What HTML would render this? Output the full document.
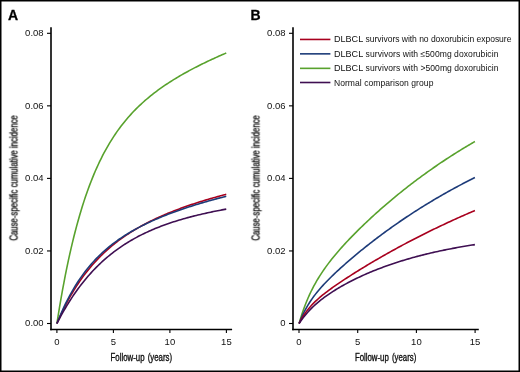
<!DOCTYPE html>
<html><head><meta charset="utf-8"><style>
html,body{margin:0;padding:0;background:#fff;}
body{width:520px;height:372px;overflow:hidden;}
svg{display:block;font-family:"Liberation Sans",sans-serif;}
text{will-change:transform;}
</style></head><body>
<svg width="520" height="372" viewBox="0 0 520 372">
<rect x="0.75" y="0.75" width="518.5" height="370.5" fill="#fff" stroke="#000" stroke-width="1.5"/>
<text x="8.0" y="19.8" font-size="14" font-weight="bold" fill="#000" stroke="#000" stroke-width="0.3">A</text>
<text x="250.6" y="19.8" font-size="14" font-weight="bold" fill="#000" stroke="#000" stroke-width="0.3">B</text>
<line x1="51.0" y1="27.3" x2="51.0" y2="330.3" stroke="#000" stroke-width="1.6"/>
<line x1="50.2" y1="329.5" x2="232.1" y2="329.5" stroke="#000" stroke-width="1.6"/>
<line x1="47.0" y1="323.50" x2="51.0" y2="323.50" stroke="#000" stroke-width="1.1"/>
<text transform="translate(43.6,326.20) scale(1,1)" text-anchor="end" font-size="9.5" fill="#111" stroke="#111" stroke-width="0">0.00</text>
<line x1="47.0" y1="250.95" x2="51.0" y2="250.95" stroke="#000" stroke-width="1.1"/>
<text transform="translate(43.6,253.65) scale(1,1)" text-anchor="end" font-size="9.5" fill="#111" stroke="#111" stroke-width="0">0.02</text>
<line x1="47.0" y1="178.40" x2="51.0" y2="178.40" stroke="#000" stroke-width="1.1"/>
<text transform="translate(43.6,181.10) scale(1,1)" text-anchor="end" font-size="9.5" fill="#111" stroke="#111" stroke-width="0">0.04</text>
<line x1="47.0" y1="105.85" x2="51.0" y2="105.85" stroke="#000" stroke-width="1.1"/>
<text transform="translate(43.6,108.55) scale(1,1)" text-anchor="end" font-size="9.5" fill="#111" stroke="#111" stroke-width="0">0.06</text>
<line x1="47.0" y1="33.30" x2="51.0" y2="33.30" stroke="#000" stroke-width="1.1"/>
<text transform="translate(43.6,36.00) scale(1,1)" text-anchor="end" font-size="9.5" fill="#111" stroke="#111" stroke-width="0">0.08</text>
<line x1="56.90" y1="329.5" x2="56.90" y2="333" stroke="#000" stroke-width="1.1"/>
<text transform="translate(56.90,344.7) scale(1,1)" text-anchor="middle" font-size="9.5" fill="#111" stroke="#111" stroke-width="0">0</text>
<line x1="113.40" y1="329.5" x2="113.40" y2="333" stroke="#000" stroke-width="1.1"/>
<text transform="translate(113.40,344.7) scale(1,1)" text-anchor="middle" font-size="9.5" fill="#111" stroke="#111" stroke-width="0">5</text>
<line x1="169.90" y1="329.5" x2="169.90" y2="333" stroke="#000" stroke-width="1.1"/>
<text transform="translate(169.90,344.7) scale(1,1)" text-anchor="middle" font-size="9.5" fill="#111" stroke="#111" stroke-width="0">10</text>
<line x1="226.40" y1="329.5" x2="226.40" y2="333" stroke="#000" stroke-width="1.1"/>
<text transform="translate(226.40,344.7) scale(1,1)" text-anchor="middle" font-size="9.5" fill="#111" stroke="#111" stroke-width="0">15</text>
<line x1="293.0" y1="27.3" x2="293.0" y2="330.3" stroke="#000" stroke-width="1.6"/>
<line x1="292.2" y1="329.5" x2="478.8" y2="329.5" stroke="#000" stroke-width="1.6"/>
<line x1="289.0" y1="323.50" x2="293.0" y2="323.50" stroke="#000" stroke-width="1.1"/>
<text transform="translate(285.6,326.20) scale(1,1)" text-anchor="end" font-size="9.5" fill="#111" stroke="#111" stroke-width="0">0</text>
<line x1="289.0" y1="250.95" x2="293.0" y2="250.95" stroke="#000" stroke-width="1.1"/>
<text transform="translate(285.6,253.65) scale(1,1)" text-anchor="end" font-size="9.5" fill="#111" stroke="#111" stroke-width="0">0.02</text>
<line x1="289.0" y1="178.40" x2="293.0" y2="178.40" stroke="#000" stroke-width="1.1"/>
<text transform="translate(285.6,181.10) scale(1,1)" text-anchor="end" font-size="9.5" fill="#111" stroke="#111" stroke-width="0">0.04</text>
<line x1="289.0" y1="105.85" x2="293.0" y2="105.85" stroke="#000" stroke-width="1.1"/>
<text transform="translate(285.6,108.55) scale(1,1)" text-anchor="end" font-size="9.5" fill="#111" stroke="#111" stroke-width="0">0.06</text>
<line x1="289.0" y1="33.30" x2="293.0" y2="33.30" stroke="#000" stroke-width="1.1"/>
<text transform="translate(285.6,36.00) scale(1,1)" text-anchor="end" font-size="9.5" fill="#111" stroke="#111" stroke-width="0">0.08</text>
<line x1="299.00" y1="329.5" x2="299.00" y2="333" stroke="#000" stroke-width="1.1"/>
<text transform="translate(299.00,344.7) scale(1,1)" text-anchor="middle" font-size="9.5" fill="#111" stroke="#111" stroke-width="0">0</text>
<line x1="357.70" y1="329.5" x2="357.70" y2="333" stroke="#000" stroke-width="1.1"/>
<text transform="translate(357.70,344.7) scale(1,1)" text-anchor="middle" font-size="9.5" fill="#111" stroke="#111" stroke-width="0">5</text>
<line x1="416.40" y1="329.5" x2="416.40" y2="333" stroke="#000" stroke-width="1.1"/>
<text transform="translate(416.40,344.7) scale(1,1)" text-anchor="middle" font-size="9.5" fill="#111" stroke="#111" stroke-width="0">10</text>
<line x1="475.10" y1="329.5" x2="475.10" y2="333" stroke="#000" stroke-width="1.1"/>
<text transform="translate(475.10,344.7) scale(1,1)" text-anchor="middle" font-size="9.5" fill="#111" stroke="#111" stroke-width="0">15</text>
<text transform="translate(141.3,361) scale(0.783,1)" word-spacing="1.3" text-anchor="middle" font-size="10" fill="#111" stroke="#111" stroke-width="0.35">Follow-up (years)</text>
<text transform="translate(385.6,361) scale(0.783,1)" word-spacing="1.3" text-anchor="middle" font-size="10" fill="#111" stroke="#111" stroke-width="0.35">Follow-up (years)</text>
<text transform="translate(17.5,178) rotate(-90) scale(0.78,1)" text-anchor="middle" font-size="10" fill="#111" stroke="#111" stroke-width="0.35">Cause-specific cumulative incidence</text>
<text transform="translate(259.5,178) rotate(-90) scale(0.78,1)" text-anchor="middle" font-size="10" fill="#111" stroke="#111" stroke-width="0.35">Cause-specific cumulative incidence</text>
<path d="M56.90,323.50 L58.32,314.52 L59.75,305.90 L61.17,297.62 L62.59,289.66 L64.02,282.03 L65.44,274.69 L66.86,267.64 L68.28,260.87 L69.71,254.35 L71.13,248.09 L72.55,242.07 L73.98,236.28 L75.40,230.70 L76.82,225.34 L78.25,220.18 L79.67,215.21 L81.09,210.42 L82.52,205.81 L83.94,201.37 L85.36,197.08 L86.79,192.95 L88.21,188.97 L89.63,185.13 L91.05,181.42 L92.48,177.85 L93.90,174.39 L95.32,171.05 L96.75,167.83 L98.17,164.71 L99.59,161.70 L101.02,158.79 L102.44,155.97 L103.86,153.24 L105.29,150.60 L106.71,148.04 L108.13,145.56 L109.56,143.15 L110.98,140.82 L112.40,138.56 L113.82,136.37 L115.25,134.24 L116.67,132.17 L118.09,130.16 L119.52,128.21 L120.94,126.31 L122.36,124.47 L123.79,122.67 L125.21,120.92 L126.63,119.22 L128.06,117.56 L129.48,115.94 L130.90,114.36 L132.32,112.82 L133.75,111.32 L135.17,109.85 L136.59,108.42 L138.02,107.02 L139.44,105.65 L140.86,104.31 L142.29,103.00 L143.71,101.72 L145.13,100.47 L146.56,99.24 L147.98,98.04 L149.40,96.86 L150.83,95.70 L152.25,94.57 L153.67,93.45 L155.09,92.36 L156.52,91.28 L157.94,90.23 L159.36,89.19 L160.79,88.17 L162.21,87.17 L163.63,86.18 L165.06,85.21 L166.48,84.26 L167.90,83.32 L169.33,82.39 L170.75,81.48 L172.17,80.58 L173.59,79.69 L175.02,78.82 L176.44,77.95 L177.86,77.10 L179.29,76.26 L180.71,75.43 L182.13,74.61 L183.56,73.80 L184.98,73.00 L186.40,72.21 L187.83,71.43 L189.25,70.66 L190.67,69.90 L192.10,69.14 L193.52,68.39 L194.94,67.65 L196.36,66.92 L197.79,66.20 L199.21,65.48 L200.63,64.77 L202.06,64.07 L203.48,63.37 L204.90,62.68 L206.33,61.99 L207.75,61.32 L209.17,60.64 L210.60,59.98 L212.02,59.32 L213.44,58.66 L214.87,58.01 L216.29,57.37 L217.71,56.73 L219.13,56.10 L220.56,55.47 L221.98,54.84 L223.40,54.23 L224.83,53.61 L226.25,53.00" fill="none" stroke="#58a22d" stroke-width="1.6" stroke-linecap="butt"/>
<path d="M56.90,323.50 L58.32,320.24 L59.75,317.07 L61.17,314.00 L62.59,311.02 L64.02,308.13 L65.44,305.33 L66.86,302.61 L68.28,299.96 L69.71,297.40 L71.13,294.91 L72.55,292.49 L73.98,290.13 L75.40,287.85 L76.82,285.63 L78.25,283.47 L79.67,281.37 L81.09,279.32 L82.52,277.33 L83.94,275.40 L85.36,273.52 L86.79,271.68 L88.21,269.90 L89.63,268.16 L91.05,266.46 L92.48,264.81 L93.90,263.20 L95.32,261.63 L96.75,260.10 L98.17,258.60 L99.59,257.14 L101.02,255.72 L102.44,254.33 L103.86,252.98 L105.29,251.65 L106.71,250.36 L108.13,249.09 L109.56,247.85 L110.98,246.64 L112.40,245.46 L113.82,244.31 L115.25,243.17 L116.67,242.07 L118.09,240.98 L119.52,239.92 L120.94,238.88 L122.36,237.86 L123.79,236.86 L125.21,235.88 L126.63,234.93 L128.06,233.99 L129.48,233.06 L130.90,232.16 L132.32,231.27 L133.75,230.40 L135.17,229.54 L136.59,228.70 L138.02,227.88 L139.44,227.07 L140.86,226.27 L142.29,225.49 L143.71,224.72 L145.13,223.96 L146.56,223.22 L147.98,222.48 L149.40,221.76 L150.83,221.06 L152.25,220.36 L153.67,219.67 L155.09,219.00 L156.52,218.33 L157.94,217.68 L159.36,217.03 L160.79,216.39 L162.21,215.77 L163.63,215.15 L165.06,214.54 L166.48,213.94 L167.90,213.35 L169.33,212.76 L170.75,212.19 L172.17,211.62 L173.59,211.06 L175.02,210.50 L176.44,209.96 L177.86,209.42 L179.29,208.88 L180.71,208.36 L182.13,207.84 L183.56,207.33 L184.98,206.82 L186.40,206.32 L187.83,205.82 L189.25,205.33 L190.67,204.85 L192.10,204.37 L193.52,203.90 L194.94,203.44 L196.36,202.97 L197.79,202.52 L199.21,202.07 L200.63,201.62 L202.06,201.18 L203.48,200.74 L204.90,200.31 L206.33,199.88 L207.75,199.46 L209.17,199.04 L210.60,198.63 L212.02,198.22 L213.44,197.81 L214.87,197.41 L216.29,197.01 L217.71,196.62 L219.13,196.23 L220.56,195.84 L221.98,195.46 L223.40,195.08 L224.83,194.71 L226.25,194.34" fill="none" stroke="#a8001e" stroke-width="1.6" stroke-linecap="butt"/>
<path d="M56.90,323.50 L58.32,319.94 L59.75,316.51 L61.17,313.20 L62.59,310.01 L64.02,306.92 L65.44,303.95 L66.86,301.08 L68.28,298.30 L69.71,295.62 L71.13,293.03 L72.55,290.52 L73.98,288.10 L75.40,285.76 L76.82,283.49 L78.25,281.30 L79.67,279.17 L81.09,277.11 L82.52,275.12 L83.94,273.19 L85.36,271.31 L86.79,269.50 L88.21,267.73 L89.63,266.02 L91.05,264.36 L92.48,262.74 L93.90,261.18 L95.32,259.65 L96.75,258.17 L98.17,256.73 L99.59,255.33 L101.02,253.96 L102.44,252.63 L103.86,251.34 L105.29,250.08 L106.71,248.85 L108.13,247.65 L109.56,246.48 L110.98,245.34 L112.40,244.22 L113.82,243.14 L115.25,242.07 L116.67,241.04 L118.09,240.02 L119.52,239.03 L120.94,238.06 L122.36,237.11 L123.79,236.18 L125.21,235.27 L126.63,234.38 L128.06,233.50 L129.48,232.65 L130.90,231.81 L132.32,230.98 L133.75,230.18 L135.17,229.38 L136.59,228.61 L138.02,227.84 L139.44,227.09 L140.86,226.35 L142.29,225.63 L143.71,224.92 L145.13,224.22 L146.56,223.53 L147.98,222.85 L149.40,222.18 L150.83,221.53 L152.25,220.88 L153.67,220.24 L155.09,219.62 L156.52,219.00 L157.94,218.39 L159.36,217.79 L160.79,217.20 L162.21,216.62 L163.63,216.04 L165.06,215.47 L166.48,214.91 L167.90,214.36 L169.33,213.82 L170.75,213.28 L172.17,212.74 L173.59,212.22 L175.02,211.70 L176.44,211.19 L177.86,210.68 L179.29,210.18 L180.71,209.69 L182.13,209.20 L183.56,208.72 L184.98,208.24 L186.40,207.77 L187.83,207.30 L189.25,206.84 L190.67,206.38 L192.10,205.93 L193.52,205.48 L194.94,205.04 L196.36,204.60 L197.79,204.16 L199.21,203.73 L200.63,203.31 L202.06,202.89 L203.48,202.47 L204.90,202.06 L206.33,201.65 L207.75,201.24 L209.17,200.84 L210.60,200.45 L212.02,200.05 L213.44,199.66 L214.87,199.28 L216.29,198.89 L217.71,198.51 L219.13,198.14 L220.56,197.77 L221.98,197.40 L223.40,197.03 L224.83,196.67 L226.25,196.31" fill="none" stroke="#1d3b79" stroke-width="1.6" stroke-linecap="butt"/>
<path d="M56.90,323.50 L58.32,320.76 L59.75,318.08 L61.17,315.46 L62.59,312.91 L64.02,310.42 L65.44,307.99 L66.86,305.62 L68.28,303.30 L69.71,301.04 L71.13,298.83 L72.55,296.68 L73.98,294.57 L75.40,292.52 L76.82,290.51 L78.25,288.56 L79.67,286.64 L81.09,284.78 L82.52,282.95 L83.94,281.17 L85.36,279.43 L86.79,277.73 L88.21,276.08 L89.63,274.46 L91.05,272.87 L92.48,271.33 L93.90,269.82 L95.32,268.34 L96.75,266.90 L98.17,265.49 L99.59,264.11 L101.02,262.77 L102.44,261.45 L103.86,260.17 L105.29,258.91 L106.71,257.68 L108.13,256.49 L109.56,255.31 L110.98,254.17 L112.40,253.04 L113.82,251.95 L115.25,250.88 L116.67,249.83 L118.09,248.80 L119.52,247.80 L120.94,246.82 L122.36,245.86 L123.79,244.92 L125.21,244.00 L126.63,243.11 L128.06,242.23 L129.48,241.37 L130.90,240.52 L132.32,239.70 L133.75,238.89 L135.17,238.10 L136.59,237.33 L138.02,236.57 L139.44,235.83 L140.86,235.11 L142.29,234.39 L143.71,233.70 L145.13,233.02 L146.56,232.35 L147.98,231.69 L149.40,231.05 L150.83,230.42 L152.25,229.80 L153.67,229.20 L155.09,228.61 L156.52,228.03 L157.94,227.46 L159.36,226.90 L160.79,226.35 L162.21,225.81 L163.63,225.28 L165.06,224.77 L166.48,224.26 L167.90,223.76 L169.33,223.27 L170.75,222.79 L172.17,222.32 L173.59,221.85 L175.02,221.40 L176.44,220.95 L177.86,220.51 L179.29,220.08 L180.71,219.66 L182.13,219.24 L183.56,218.83 L184.98,218.43 L186.40,218.03 L187.83,217.64 L189.25,217.26 L190.67,216.88 L192.10,216.51 L193.52,216.15 L194.94,215.79 L196.36,215.44 L197.79,215.09 L199.21,214.75 L200.63,214.41 L202.06,214.08 L203.48,213.75 L204.90,213.43 L206.33,213.11 L207.75,212.80 L209.17,212.49 L210.60,212.18 L212.02,211.88 L213.44,211.59 L214.87,211.30 L216.29,211.01 L217.71,210.73 L219.13,210.44 L220.56,210.17 L221.98,209.90 L223.40,209.63 L224.83,209.36 L226.25,209.10" fill="none" stroke="#3f0f52" stroke-width="1.6" stroke-linecap="butt"/>
<path d="M299.10,323.50 L300.58,318.50 L302.05,313.87 L303.53,309.56 L305.01,305.54 L306.49,301.78 L307.96,298.25 L309.44,294.92 L310.92,291.78 L312.40,288.80 L313.87,285.97 L315.35,283.28 L316.83,280.70 L318.31,278.23 L319.78,275.85 L321.26,273.56 L322.74,271.35 L324.21,269.21 L325.69,267.13 L327.17,265.11 L328.65,263.14 L330.12,261.22 L331.60,259.34 L333.08,257.50 L334.56,255.70 L336.03,253.93 L337.51,252.20 L338.99,250.49 L340.46,248.80 L341.94,247.15 L343.42,245.51 L344.90,243.90 L346.37,242.30 L347.85,240.73 L349.33,239.17 L350.81,237.63 L352.28,236.10 L353.76,234.59 L355.24,233.10 L356.72,231.62 L358.19,230.15 L359.67,228.69 L361.15,227.25 L362.62,225.82 L364.10,224.40 L365.58,222.99 L367.06,221.59 L368.53,220.21 L370.01,218.83 L371.49,217.46 L372.97,216.11 L374.44,214.76 L375.92,213.43 L377.40,212.10 L378.87,210.78 L380.35,209.47 L381.83,208.17 L383.31,206.88 L384.78,205.60 L386.26,204.33 L387.74,203.06 L389.22,201.81 L390.69,200.56 L392.17,199.32 L393.65,198.09 L395.13,196.87 L396.60,195.65 L398.08,194.45 L399.56,193.25 L401.03,192.06 L402.51,190.88 L403.99,189.70 L405.47,188.54 L406.94,187.38 L408.42,186.22 L409.90,185.08 L411.38,183.94 L412.85,182.81 L414.33,181.69 L415.81,180.58 L417.28,179.47 L418.76,178.37 L420.24,177.28 L421.72,176.19 L423.19,175.11 L424.67,174.04 L426.15,172.98 L427.63,171.92 L429.10,170.87 L430.58,169.83 L432.06,168.79 L433.54,167.76 L435.01,166.73 L436.49,165.72 L437.97,164.71 L439.44,163.70 L440.92,162.71 L442.40,161.72 L443.88,160.73 L445.35,159.75 L446.83,158.78 L448.31,157.82 L449.79,156.86 L451.26,155.91 L452.74,154.96 L454.22,154.02 L455.69,153.09 L457.17,152.16 L458.65,151.24 L460.13,150.32 L461.60,149.41 L463.08,148.51 L464.56,147.61 L466.04,146.71 L467.51,145.83 L468.99,144.95 L470.47,144.07 L471.95,143.20 L473.42,142.34 L474.90,141.48" fill="none" stroke="#58a22d" stroke-width="1.6" stroke-linecap="butt"/>
<path d="M299.10,323.50 L300.58,319.78 L302.05,316.37 L303.53,313.23 L305.01,310.33 L306.49,307.63 L307.96,305.10 L309.44,302.72 L310.92,300.48 L312.40,298.35 L313.87,296.32 L315.35,294.38 L316.83,292.52 L318.31,290.72 L319.78,288.98 L321.26,287.30 L322.74,285.66 L324.21,284.06 L325.69,282.49 L327.17,280.96 L328.65,279.46 L330.12,277.98 L331.60,276.53 L333.08,275.09 L334.56,273.68 L336.03,272.29 L337.51,270.91 L338.99,269.55 L340.46,268.20 L341.94,266.86 L343.42,265.54 L344.90,264.23 L346.37,262.93 L347.85,261.64 L349.33,260.37 L350.81,259.10 L352.28,257.84 L353.76,256.59 L355.24,255.36 L356.72,254.13 L358.19,252.90 L359.67,251.69 L361.15,250.49 L362.62,249.29 L364.10,248.10 L365.58,246.92 L367.06,245.75 L368.53,244.59 L370.01,243.43 L371.49,242.28 L372.97,241.14 L374.44,240.00 L375.92,238.87 L377.40,237.75 L378.87,236.64 L380.35,235.54 L381.83,234.44 L383.31,233.34 L384.78,232.26 L386.26,231.18 L387.74,230.11 L389.22,229.05 L390.69,227.99 L392.17,226.94 L393.65,225.89 L395.13,224.86 L396.60,223.82 L398.08,222.80 L399.56,221.78 L401.03,220.77 L402.51,219.76 L403.99,218.77 L405.47,217.77 L406.94,216.79 L408.42,215.81 L409.90,214.83 L411.38,213.86 L412.85,212.90 L414.33,211.95 L415.81,211.00 L417.28,210.05 L418.76,209.12 L420.24,208.18 L421.72,207.26 L423.19,206.34 L424.67,205.42 L426.15,204.52 L427.63,203.61 L429.10,202.72 L430.58,201.82 L432.06,200.94 L433.54,200.06 L435.01,199.18 L436.49,198.31 L437.97,197.45 L439.44,196.59 L440.92,195.74 L442.40,194.89 L443.88,194.05 L445.35,193.21 L446.83,192.38 L448.31,191.56 L449.79,190.73 L451.26,189.92 L452.74,189.11 L454.22,188.30 L455.69,187.50 L457.17,186.71 L458.65,185.91 L460.13,185.13 L461.60,184.35 L463.08,183.57 L464.56,182.80 L466.04,182.04 L467.51,181.28 L468.99,180.52 L470.47,179.77 L471.95,179.02 L473.42,178.28 L474.90,177.54" fill="none" stroke="#1d3b79" stroke-width="1.6" stroke-linecap="butt"/>
<path d="M299.10,323.50 L300.58,320.63 L302.05,318.01 L303.53,315.62 L305.01,313.41 L306.49,311.36 L307.96,309.45 L309.44,307.66 L310.92,305.98 L312.40,304.39 L313.87,302.88 L315.35,301.44 L316.83,300.06 L318.31,298.73 L319.78,297.44 L321.26,296.20 L322.74,294.99 L324.21,293.81 L325.69,292.66 L327.17,291.53 L328.65,290.43 L330.12,289.34 L331.60,288.27 L333.08,287.22 L334.56,286.17 L336.03,285.15 L337.51,284.13 L338.99,283.12 L340.46,282.12 L341.94,281.13 L343.42,280.15 L344.90,279.18 L346.37,278.22 L347.85,277.26 L349.33,276.30 L350.81,275.36 L352.28,274.42 L353.76,273.48 L355.24,272.55 L356.72,271.63 L358.19,270.71 L359.67,269.80 L361.15,268.89 L362.62,267.98 L364.10,267.08 L365.58,266.19 L367.06,265.30 L368.53,264.41 L370.01,263.53 L371.49,262.65 L372.97,261.78 L374.44,260.91 L375.92,260.05 L377.40,259.19 L378.87,258.33 L380.35,257.48 L381.83,256.63 L383.31,255.79 L384.78,254.95 L386.26,254.11 L387.74,253.28 L389.22,252.45 L390.69,251.63 L392.17,250.81 L393.65,249.99 L395.13,249.18 L396.60,248.37 L398.08,247.57 L399.56,246.76 L401.03,245.97 L402.51,245.17 L403.99,244.38 L405.47,243.60 L406.94,242.81 L408.42,242.04 L409.90,241.26 L411.38,240.49 L412.85,239.72 L414.33,238.96 L415.81,238.20 L417.28,237.44 L418.76,236.69 L420.24,235.94 L421.72,235.19 L423.19,234.45 L424.67,233.71 L426.15,232.97 L427.63,232.24 L429.10,231.51 L430.58,230.79 L432.06,230.06 L433.54,229.34 L435.01,228.63 L436.49,227.92 L437.97,227.21 L439.44,226.50 L440.92,225.80 L442.40,225.10 L443.88,224.41 L445.35,223.71 L446.83,223.03 L448.31,222.34 L449.79,221.66 L451.26,220.98 L452.74,220.30 L454.22,219.63 L455.69,218.96 L457.17,218.29 L458.65,217.63 L460.13,216.97 L461.60,216.31 L463.08,215.66 L464.56,215.01 L466.04,214.36 L467.51,213.71 L468.99,213.07 L470.47,212.43 L471.95,211.80 L473.42,211.16 L474.90,210.53" fill="none" stroke="#a8001e" stroke-width="1.6" stroke-linecap="butt"/>
<path d="M299.10,323.50 L300.58,321.30 L302.05,319.23 L303.53,317.28 L305.01,315.43 L306.49,313.68 L307.96,312.01 L309.44,310.41 L310.92,308.89 L312.40,307.43 L313.87,306.03 L315.35,304.68 L316.83,303.38 L318.31,302.13 L319.78,300.91 L321.26,299.74 L322.74,298.59 L324.21,297.48 L325.69,296.40 L327.17,295.35 L328.65,294.33 L330.12,293.32 L331.60,292.35 L333.08,291.39 L334.56,290.45 L336.03,289.53 L337.51,288.64 L338.99,287.75 L340.46,286.89 L341.94,286.04 L343.42,285.21 L344.90,284.39 L346.37,283.58 L347.85,282.79 L349.33,282.01 L350.81,281.25 L352.28,280.50 L353.76,279.76 L355.24,279.03 L356.72,278.31 L358.19,277.60 L359.67,276.91 L361.15,276.22 L362.62,275.55 L364.10,274.89 L365.58,274.23 L367.06,273.59 L368.53,272.95 L370.01,272.32 L371.49,271.71 L372.97,271.10 L374.44,270.50 L375.92,269.91 L377.40,269.33 L378.87,268.76 L380.35,268.19 L381.83,267.63 L383.31,267.08 L384.78,266.54 L386.26,266.01 L387.74,265.48 L389.22,264.96 L390.69,264.45 L392.17,263.95 L393.65,263.45 L395.13,262.96 L396.60,262.48 L398.08,262.00 L399.56,261.53 L401.03,261.07 L402.51,260.62 L403.99,260.17 L405.47,259.72 L406.94,259.29 L408.42,258.86 L409.90,258.43 L411.38,258.01 L412.85,257.60 L414.33,257.19 L415.81,256.79 L417.28,256.39 L418.76,256.00 L420.24,255.62 L421.72,255.24 L423.19,254.87 L424.67,254.50 L426.15,254.13 L427.63,253.78 L429.10,253.42 L430.58,253.07 L432.06,252.73 L433.54,252.39 L435.01,252.06 L436.49,251.73 L437.97,251.41 L439.44,251.09 L440.92,250.77 L442.40,250.46 L443.88,250.15 L445.35,249.85 L446.83,249.55 L448.31,249.26 L449.79,248.97 L451.26,248.68 L452.74,248.40 L454.22,248.12 L455.69,247.85 L457.17,247.58 L458.65,247.31 L460.13,247.05 L461.60,246.79 L463.08,246.54 L464.56,246.29 L466.04,246.04 L467.51,245.79 L468.99,245.55 L470.47,245.32 L471.95,245.08 L473.42,244.85 L474.90,244.62" fill="none" stroke="#3f0f52" stroke-width="1.6" stroke-linecap="butt"/>
<line x1="300" y1="39.45" x2="330.4" y2="39.45" stroke="#a8001e" stroke-width="1.6"/>
<text x="333.9" y="42.45" font-size="8.55" fill="#111" textLength="29.3" lengthAdjust="spacingAndGlyphs">DLBCL</text>
<text x="365.6" y="42.45" font-size="8.55" fill="#111" textLength="145.8" lengthAdjust="spacing">survivors with no doxorubicin exposure</text>
<line x1="300" y1="53.85" x2="330.4" y2="53.85" stroke="#1d3b79" stroke-width="1.6"/>
<text x="333.9" y="56.85" font-size="8.55" fill="#111" textLength="29.3" lengthAdjust="spacingAndGlyphs">DLBCL</text>
<text x="365.6" y="56.85" font-size="8.55" fill="#111" textLength="132.8" lengthAdjust="spacing">survivors with ≤500mg doxorubicin</text>
<line x1="300" y1="68.35" x2="330.4" y2="68.35" stroke="#58a22d" stroke-width="1.6"/>
<text x="333.9" y="71.35" font-size="8.55" fill="#111" textLength="29.3" lengthAdjust="spacingAndGlyphs">DLBCL</text>
<text x="365.6" y="71.35" font-size="8.55" fill="#111" textLength="132.9" lengthAdjust="spacing">survivors with &gt;500mg doxorubicin</text>
<line x1="300" y1="82.50" x2="330.4" y2="82.50" stroke="#3f0f52" stroke-width="1.6"/>
<text x="333.9" y="85.50" font-size="8.55" fill="#111" textLength="99.5" lengthAdjust="spacing">Normal comparison group</text>
</svg>
</body></html>
